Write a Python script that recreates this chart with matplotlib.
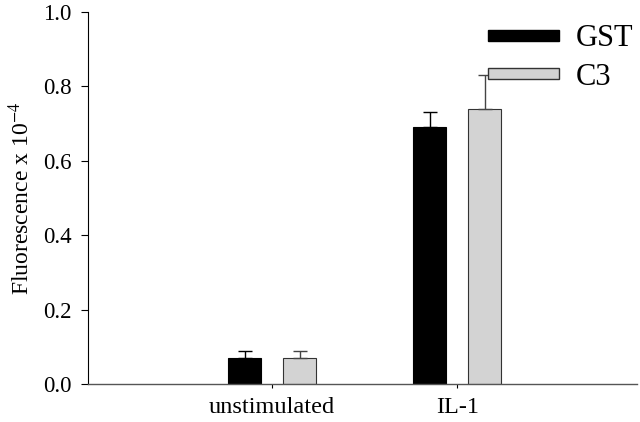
import numpy as np
import matplotlib.pyplot as plt
import matplotlib as mpl
from matplotlib.patches import Patch

mpl.rcParams.update({
    "font.family": "Liberation Serif",
    "mathtext.fontset": "stix",
    "axes.spines.top": False, "axes.spines.right": False,
})

# data
categories = ["unstimulated", "IL-1"]
series = ["GST", "C3"]
gst_vals = [0.07, 0.69]
gst_err = [0.02, 0.04]
c3_vals = [0.07, 0.74]
c3_err = [0.02, 0.09]

BLACK = "#000000"
GREY = "#d3d3d3"

fig = plt.figure(figsize=(6.4, 4.22), dpi=100)
ax = fig.add_axes([0.1375, 0.09, 0.8575, 0.8816])

x = np.arange(len(categories))
w = 0.178
off = 0.149

ax.bar(x - off, gst_vals, w, color=BLACK, edgecolor=BLACK, linewidth=0.8)
ax.errorbar(x - off, gst_vals, yerr=[np.zeros(2), gst_err], fmt="none",
            ecolor=BLACK, elinewidth=1.0, capsize=5, capthick=1.0)
ax.bar(x + off, c3_vals, w, color=GREY, edgecolor="#333333", linewidth=0.8)
ax.errorbar(x + off, c3_vals, yerr=[np.zeros(2), c3_err], fmt="none",
            ecolor="#444444", elinewidth=1.0, capsize=5, capthick=1.0)

ax.set_xlim(-0.995, 1.97)
ax.set_ylim(0, 1.0)
ax.set_xticks(x)
ax.set_xticklabels(categories, fontsize=17.5)
ax.set_yticks(np.arange(0, 1.01, 0.2))
ax.set_yticklabels([f"{v:.1f}" for v in np.arange(0, 1.01, 0.2)], fontsize=16.5)
ax.tick_params(axis="y", direction="out", length=5, width=0.8, pad=7)
ax.tick_params(axis="x", direction="out", length=3, width=0.8, pad=6)
ax.spines["left"].set_linewidth(0.8)
ax.spines["bottom"].set_linewidth(1.0)
ax.spines["bottom"].set_color("#555555")
ax.set_ylabel(r"Fluorescence x 10$^{-4}$", fontsize=17, labelpad=6)

handles = [Patch(facecolor=BLACK, edgecolor=BLACK, label="GST"),
           Patch(facecolor=GREY, edgecolor="#333333", label="C3")]
ax.legend(handles=handles, loc="upper right", bbox_to_anchor=(1.0, 0.975),
          frameon=False, fontsize=22, handlelength=2.35, handleheight=0.2,
          handletextpad=0.55, labelspacing=0.3, borderaxespad=0.0,
          borderpad=0.1)

fig.savefig("out.png", dpi=100)
